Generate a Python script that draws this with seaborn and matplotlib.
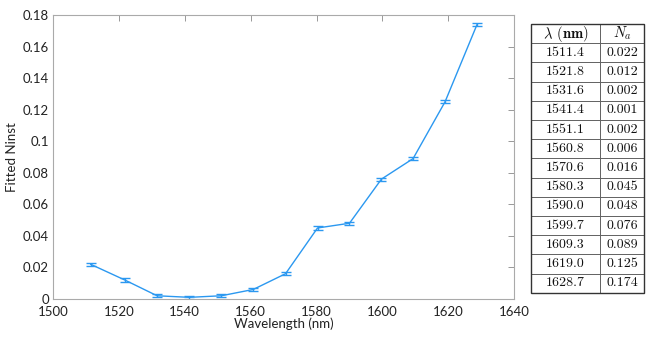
import numpy as np
import pandas as pd
import matplotlib
matplotlib.use("Agg")
import matplotlib.pyplot as plt
import seaborn as sns

wavelength = [1511.4, 1521.8, 1531.6, 1541.4, 1551.1, 1560.8, 1570.6,
              1580.3, 1590.0, 1599.7, 1609.3, 1619.0, 1628.7]
ninst = [0.022, 0.012, 0.002, 0.001, 0.002, 0.006, 0.016,
         0.045, 0.048, 0.076, 0.089, 0.125, 0.174]
ninst_err = [0.001] * 13
table_lam = ["1511.4", "1521.8", "1531.6", "1541.4", "1551.1", "1560.8", "1570.6",
             "1580.3", "1590.0", "1599.7", "1609.3", "1619.0", "1628.7"]
table_na = ["0.022", "0.012", "0.002", "0.001", "0.002", "0.006", "0.016",
            "0.045", "0.048", "0.076", "0.089", "0.125", "0.174"]

sns.set_style("white")
plt.rcParams['font.family'] = ['Lato', 'DejaVu Sans']
plt.rcParams['mathtext.fontset'] = 'cm'

df = pd.DataFrame({"wl": wavelength, "n": ninst, "err": ninst_err})
color = "#2b98f0"

fig = plt.figure(figsize=(6.46, 3.37), dpi=100)
ax = fig.add_axes([0.082, 0.113, 0.714, 0.842])
sns.lineplot(data=df, x="wl", y="n", color=color, lw=1.0, ax=ax)
ax.errorbar(df.wl, df.n, yerr=df.err, fmt="none", ecolor=color,
            elinewidth=1.0, capsize=3.5, capthick=1.0)

ax.set_xlim(1500, 1640)
ax.set_ylim(0, 0.18)
ax.set_xticks(np.arange(1500, 1641, 20))
ax.set_yticks(np.arange(0, 0.181, 0.02))
ax.set_yticklabels(["0", "0.02", "0.04", "0.06", "0.08", "0.1", "0.12", "0.14", "0.16", "0.18"])
ax.set_xlabel("Wavelength (nm)", fontsize=9.5, color="#222222", labelpad=0)
ax.set_ylabel("Fitted Ninst", fontsize=9.5, color="#222222", labelpad=3)
ax.tick_params(direction="in", top=True, right=True, length=4, width=0.6,
               color="#888888", labelsize=9.5, labelcolor="#222222")
ax.tick_params(axis="x", pad=5)
ax.tick_params(axis="y", pad=3)
for s in ax.spines.values():
    s.set_color("#aaaaaa")
    s.set_linewidth(0.8)

tax = fig.add_axes([0.822, 0.131, 0.175, 0.798])
tax.axis("off")
cells = [[a, b] for a, b in zip(table_lam, table_na)]
tbl = tax.table(cellText=cells, colLabels=[r"$\mathbf{\lambda}$ $\mathbf{(nm)}$", r"$N_a$"],
                cellLoc="center", bbox=[0, 0, 1, 1], colWidths=[0.61, 0.39])
tbl.auto_set_font_size(False)
for (r, c), cell in tbl.get_celld().items():
    cell.set_linewidth(0.6)
    cell.set_edgecolor("#555555")
    cell.get_text().set_fontfamily("cmr10")
    cell.get_text().set_fontsize(10)
    cell.get_text().set_color("#111111")
tbl[0, 0].get_text().set_fontsize(10.5)
tbl[0, 1].get_text().set_fontsize(10.5)
tax.add_patch(plt.Rectangle((0, 0), 1, 1, fill=False, lw=1.0, ec="#333333",
                            transform=tax.transAxes, clip_on=False))

fig.savefig("out.png", dpi=100)
